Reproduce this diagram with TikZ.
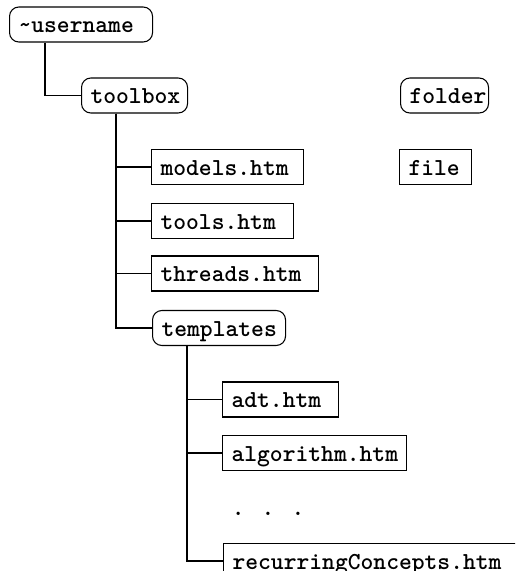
\documentclass[tikz,border=0pt]{standalone}
\usepackage{fontspec}
\newfontfamily\treefont{lmmonolt10-bold.otf}
\usetikzlibrary{calc}
% label padded on the left inside a box of fixed width
\newcommand\padlabel[2]{\makebox[#1][l]{\hspace{6.75pt}#2}}
\begin{document}
\begin{tikzpicture}[x=0.75pt,y=-0.75pt,
  entry/.style={draw, line width=0.8pt, anchor=west, inner xsep=0pt, inner ysep=0pt,
    minimum height=26.25pt, text height=15pt, text depth=3pt,
    font=\treefont\fontsize{18.3}{18.3}\selectfont},
  folderbox/.style={entry, rounded corners=7pt},
  filebox/.style={entry},
  branch/.style={line width=0.8pt}]
\useasboundingbox (0,0) rectangle (515,571);
\clip (0,0) rectangle (515,571);

% directory tree
\node[folderbox] (user)      at (9,24.5)    {\padlabel{107.25pt}{\textasciitilde username}};
\node[folderbox] (toolbox)   at (81,95.5)   {\padlabel{79.5pt}{toolbox}};
\node[filebox]   (models)    at (151,167)   {\padlabel{114pt}{models.htm}};
\node[filebox]   (tools)     at (151,221)   {\padlabel{106.5pt}{tools.htm}};
\node[filebox]   (threads)   at (151,273.5) {\padlabel{125.25pt}{threads.htm}};
\node[folderbox] (templates) at (152,328)   {\padlabel{99.75pt}{templates}};
\node[filebox]   (adt)       at (222,399.5) {\padlabel{87pt}{adt.htm}};
\node[filebox]   (algorithm) at (222,453)   {\padlabel{138pt}{algorithm.htm}};
\node[filebox]   (recurring) at (223,561)   {\padlabel{225pt}{recurringConcepts.htm}};
\node[anchor=base west, inner sep=0pt, font=\treefont\fontsize{18.3}{18.3}\selectfont]
  (more) at (231.6,515) {. . .};

% legend
\node[folderbox] (folder) at (400,95.5) {\padlabel{66pt}{folder}};
\node[filebox]   (file)   at (399,167)  {\padlabel{54pt}{file}};

% connectors
\draw[branch] ($(user.south west)+(36,0)$) |- (toolbox.west);
\coordinate (tbtrunk) at ($(toolbox.south west)+(35,0)$);
\foreach \n in {models,tools,threads,templates}
  \draw[branch] (tbtrunk) |- (\n.west);
\coordinate (tptrunk) at ($(templates.south west)+(35,0)$);
\foreach \n in {adt,algorithm,recurring}
  \draw[branch] (tptrunk) |- (\n.west);
\end{tikzpicture}
\end{document}
